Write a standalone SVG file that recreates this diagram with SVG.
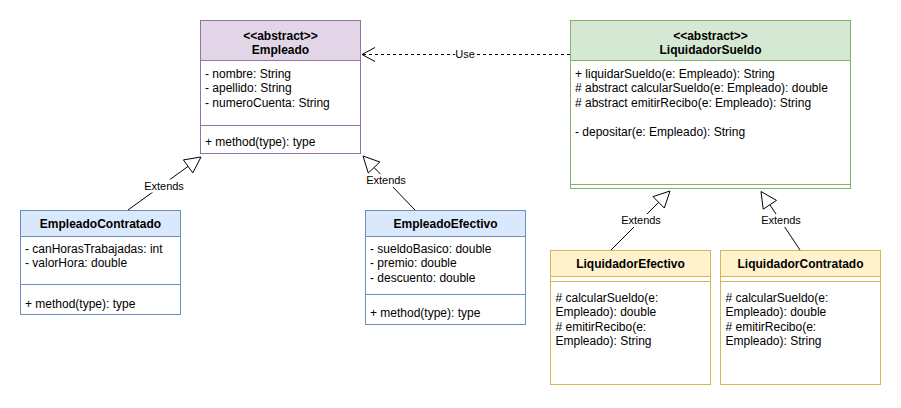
<svg xmlns="http://www.w3.org/2000/svg" width="901" height="408" viewBox="0 0 901 408">
<style>
text{font-family:"Liberation Sans",Arial,sans-serif;font-size:12px;fill:#000}
.h{font-weight:bold;text-anchor:middle}
.lbl{font-size:11px;text-anchor:middle}
.purple{fill:#e1d5e7;stroke:#9673a6}
.green{fill:#d5e8d4;stroke:#82b366}
.blue{fill:#dae8fc;stroke:#6c8ebf}
.yellow{fill:#fff2cc;stroke:#d6b656}
.body{fill:#fff}
.ln{stroke:#000;stroke-width:1;fill:none}
.tri{fill:#fff;stroke:#000;stroke-width:1}
.bg{fill:#fff}
</style>
<rect width="901" height="408" fill="#fff"/>

<g id="Empleado">
<rect x="200.5" y="20.5" width="160" height="133" class="body" stroke="#9673a6"/>
<rect x="200.5" y="20.5" width="160" height="40" class="purple"/>
<line x1="200.5" y1="125.5" x2="360.5" y2="125.5" stroke="#9673a6"/>
<text x="280.5" y="39.5" class="h">&lt;&lt;abstract&gt;&gt;</text>
<text x="280.5" y="53.5" class="h">Empleado</text>
<text x="205" y="78">- nombre: String</text>
<text x="205" y="92.4">- apellido: String</text>
<text x="205" y="106.8">- numeroCuenta: String</text>
<text x="205" y="146">+ method(type): type</text>
</g>

<g id="LiquidadorSueldo">
<rect x="570.5" y="20.5" width="280" height="168" class="body" stroke="#82b366"/>
<rect x="570.5" y="20.5" width="280" height="40" class="green"/>
<line x1="570.5" y1="184.5" x2="850.5" y2="184.5" stroke="#82b366"/>
<text x="710.5" y="39.5" class="h">&lt;&lt;abstract&gt;&gt;</text>
<text x="710.5" y="53.5" class="h">LiquidadorSueldo</text>
<text x="575" y="78">+ liquidarSueldo(e: Empleado): String</text>
<text x="575" y="92.4"># abstract calcularSueldo(e: Empleado): double</text>
<text x="575" y="106.8"># abstract emitirRecibo(e: Empleado): String</text>
<text x="575" y="135.6">- depositar(e: Empleado): String</text>
</g>

<g id="EmpleadoContratado">
<rect x="20.5" y="210.5" width="160" height="104" class="body" stroke="#6c8ebf"/>
<rect x="20.5" y="210.5" width="160" height="26" class="blue"/>
<line x1="20.5" y1="284.5" x2="180.5" y2="284.5" stroke="#6c8ebf"/>
<text x="100.5" y="227.5" class="h">EmpleadoContratado</text>
<text x="25" y="253">- canHorasTrabajadas: int</text>
<text x="25" y="267.4">- valorHora: double</text>
<text x="25" y="307.5">+ method(type): type</text>
</g>

<g id="EmpleadoEfectivo">
<rect x="365.5" y="210.5" width="160" height="114" class="body" stroke="#6c8ebf"/>
<rect x="365.5" y="210.5" width="160" height="26" class="blue"/>
<line x1="365.5" y1="294.5" x2="525.5" y2="294.5" stroke="#6c8ebf"/>
<text x="445.5" y="227.5" class="h">EmpleadoEfectivo</text>
<text x="370" y="253">- sueldoBasico: double</text>
<text x="370" y="267.4">- premio: double</text>
<text x="370" y="281.8">- descuento: double</text>
<text x="370" y="316.5">+ method(type): type</text>
</g>

<g id="LiquidadorEfectivo">
<rect x="550.5" y="250.5" width="160" height="134" class="body" stroke="#d6b656"/>
<rect x="550.5" y="250.5" width="160" height="26" class="yellow"/>
<line x1="550.5" y1="281.5" x2="710.5" y2="281.5" stroke="#d6b656"/>
<text x="630.5" y="267.5" class="h">LiquidadorEfectivo</text>
<text x="555.5" y="302"># calcularSueldo(e:</text>
<text x="555.5" y="316.4">Empleado): double</text>
<text x="555.5" y="330.8"># emitirRecibo(e:</text>
<text x="555.5" y="345.2">Empleado): String</text>
</g>

<g id="LiquidadorContratado">
<rect x="720.5" y="250.5" width="160" height="134" class="body" stroke="#d6b656"/>
<rect x="720.5" y="250.5" width="160" height="26" class="yellow"/>
<line x1="720.5" y1="281.5" x2="880.5" y2="281.5" stroke="#d6b656"/>
<text x="800.5" y="267.5" class="h">LiquidadorContratado</text>
<text x="725.5" y="302"># calcularSueldo(e:</text>
<text x="725.5" y="316.4">Empleado): double</text>
<text x="725.5" y="330.8"># emitirRecibo(e:</text>
<text x="725.5" y="345.2">Empleado): String</text>
</g>

<g id="connectors">
<line x1="570" y1="54.5" x2="362" y2="54.5" class="ln" stroke-dasharray="3 3"/>
<polyline points="375,47.5 362,54.5 375,61.5" class="ln"/>
<rect x="455" y="48" width="20" height="13" class="bg"/>
<text x="465" y="58" class="lbl">Use</text>

<line x1="128" y1="210" x2="188.1" y2="166.4" class="ln"/>
<polygon points="201,157 192.8,172.9 183.4,159.9" class="tri"/>
<rect x="144" y="179.5" width="40" height="13" class="bg"/>
<text x="164" y="189.5" class="lbl">Extends</text>

<line x1="415" y1="210" x2="374.1" y2="167.5" class="ln"/>
<polygon points="363,156 379.9,162 368.3,173" class="tri"/>
<rect x="366" y="174" width="40" height="13" class="bg"/>
<text x="386" y="184" class="lbl">Extends</text>

<line x1="611" y1="250" x2="658.7" y2="202.3" class="ln"/>
<polygon points="670,191 664.3,208 653,196.6" class="tri"/>
<rect x="621" y="214" width="40" height="13" class="bg"/>
<text x="641" y="224" class="lbl">Extends</text>

<line x1="800" y1="250" x2="769.9" y2="204.8" class="ln"/>
<polygon points="761,191.5 776.5,200.4 763.2,209.2" class="tri"/>
<rect x="761" y="214" width="40" height="13" class="bg"/>
<text x="781" y="224" class="lbl">Extends</text>
</g>
</svg>
